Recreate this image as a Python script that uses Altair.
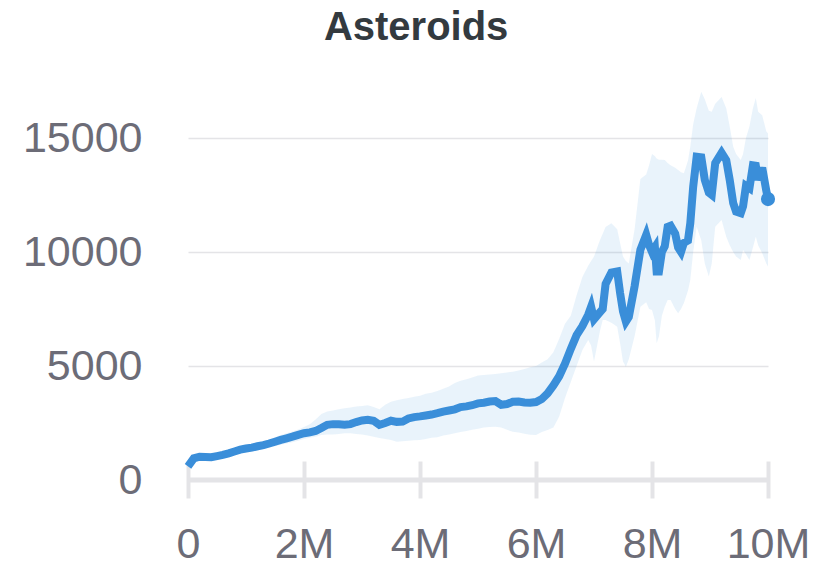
import altair as alt
import pandas as pd

# training steps (millions)
steps = [
    0.0, 0.1, 0.2, 0.3, 0.4, 0.5, 0.6, 0.7, 0.8, 0.9,
    1.0, 1.1, 1.2, 1.3, 1.4, 1.5, 1.6, 1.7, 1.8, 1.9,
    2.0, 2.1, 2.2, 2.3, 2.4, 2.5, 2.6, 2.7, 2.8, 2.9,
    3.0, 3.1, 3.2, 3.3, 3.4, 3.5, 3.6, 3.7, 3.8, 3.9,
    4.0, 4.1, 4.2, 4.3, 4.4, 4.5, 4.6, 4.7, 4.8, 4.9,
    5.0, 5.1, 5.2, 5.3, 5.4, 5.5, 5.6, 5.7, 5.8, 5.9,
    6.0,
    6.1, 6.2, 6.3, 6.4, 6.5, 6.6, 6.7, 6.8, 6.9, 6.95,
    7.0, 7.1, 7.15, 7.2, 7.3, 7.4, 7.45, 7.5, 7.55, 7.6,
    7.7, 7.8, 7.9, 7.95, 8.0, 8.05, 8.08, 8.12, 8.17, 8.22,
    8.27, 8.32, 8.4, 8.45, 8.5, 8.55, 8.62, 8.66, 8.71, 8.77,
    8.85, 8.91, 8.98, 9.03, 9.09, 9.2, 9.28, 9.34, 9.4, 9.45,
    9.53, 9.57, 9.62, 9.68, 9.74, 9.79, 9.83, 9.9, 9.97, 10.0,
]

mean_return = [
    600, 950, 1020, 1010, 1000, 1050, 1100, 1170, 1250, 1330,
    1380, 1420, 1480, 1530, 1600, 1680, 1760, 1830, 1900, 1980,
    2050, 2090, 2150, 2280, 2420, 2450, 2440, 2420, 2450, 2540,
    2610, 2640, 2600, 2420, 2500, 2600, 2550, 2560, 2700, 2760,
    2790, 2830, 2870, 2930, 3000, 3050, 3100, 3200, 3230, 3280,
    3360, 3390, 3440, 3460, 3300, 3330, 3430, 3440, 3400, 3390,
    3420,
    3550, 3800, 4150, 4550, 5100, 5750, 6350, 6750, 7250, 7600,
    7050, 7350, 7500, 8600, 9100, 9150, 8200, 7400, 6950, 7150,
    8500, 10100, 10750, 10300, 10000, 10200, 9140, 9140, 10000, 10250,
    11100, 11150, 10800, 10200, 10000, 10400, 10500, 11260, 12860, 14180,
    14150, 13160, 12600, 12500, 13900, 14350, 14030, 13160, 12150, 11770,
    11700, 12000, 12900, 12800, 13800, 13780, 13160, 13700, 12700, 12320,
]

lower = [
    540, 880, 950, 940, 920, 960, 1000, 1060, 1130, 1200,
    1240, 1270, 1320, 1360, 1420, 1480, 1550, 1600, 1660, 1720,
    1800, 1850, 1900, 1970, 2000, 2000, 2020, 2050, 2050, 2020,
    2000, 1950, 1900, 1840, 1800, 1750, 1680, 1700, 1720, 1740,
    1750, 1800, 1850, 1880, 1950, 2000, 2050, 2100, 2150, 2200,
    2250, 2300, 2330, 2340, 2300, 2200, 2120, 2080, 2030, 1990,
    1970,
    2100, 2190, 2300, 2780, 3600, 4300, 5000, 5700, 6140, 5900,
    5200, 6500, 7020, 7020, 6900, 6720, 6000, 5200, 4970, 5300,
    6300, 7600, 7800, 7500, 7460, 7000, 6000, 6300, 7200, 7600,
    7900, 7900, 7500, 7310, 7500, 7760, 8300, 8770, 10000, 11110,
    10500, 9500, 8920, 9500, 11110, 11400, 10670, 10300, 10000, 9800,
    9650, 10090, 9900, 9650, 10200, 10670, 10300, 9950, 9500, 9360,
]

upper = [
    660, 1020, 1090, 1080, 1080, 1140, 1200, 1280, 1370, 1460,
    1520, 1570, 1640, 1700, 1790, 1880, 1970, 2050, 2130, 2220,
    2320, 2450, 2650, 2900, 3000, 3050, 3100, 3150, 3180, 3220,
    3250, 3280, 3200, 3100, 3300, 3430, 3500, 3550, 3600, 3650,
    3700, 3780, 3830, 3900, 4000, 4100, 4250, 4350, 4420, 4500,
    4580, 4600, 4630, 4650, 4680, 4720, 4750, 4800, 4870, 4940,
    5000,
    5150, 5300, 5600, 6200, 6850, 7200, 8100, 8900, 9400, 9600,
    9800, 10500, 10800, 11100, 11260, 11000, 10400, 9800, 9600, 9500,
    11000, 13200, 13400, 13800, 14300, 14200, 14100, 14050, 14050, 14030,
    13900, 13800, 13700, 13600, 13500, 13450, 14000, 14620, 15600, 16300,
    17030, 16700, 16200, 16150, 16500, 16800, 16300, 15500, 14620, 14300,
    14030, 14300, 15000, 15500, 16300, 16750, 16150, 16000, 15300, 15200,
]

x_ticks = [0, 2e6, 4e6, 6e6, 8e6, 1e7]
y_ticks = [0, 5000, 10000, 15000]

df = pd.DataFrame({
    "step": [s * 1e6 for s in steps],
    "mean": mean_return,
    "lo": lower,
    "hi": upper,
})
last = df.tail(1)
axis_line = pd.DataFrame({"x": [0.0], "x2": [1e7], "y": [0]})

BLUE = "#3a8ed9"
GRAY_LINE = "#e4e4e7"
LABEL = "#6c6c77"
FONT = "Liberation Sans"

xscale = alt.Scale(domain=[0, 1e7], nice=False, zero=False)
yscale = alt.Scale(domain=[0, 17193], nice=False)

xaxis = alt.Axis(
    values=x_ticks, title=None, grid=False, domain=False,
    ticks=True, tickSize=37, tickWidth=4, tickColor=GRAY_LINE, offset=-19,
    labelFontSize=43, labelColor=LABEL, labelFont=FONT, labelPadding=25,
    labelExpr="datum.value == 0 ? '0' : (datum.value / 1000000) + 'M'",
    labelFlush=False, labelOverlap=False,
)
yaxis = alt.Axis(
    values=y_ticks, title=None, grid=True, gridColor=GRAY_LINE, gridWidth=1.5,
    domain=False, ticks=False, labelFontSize=43, labelColor=LABEL,
    labelFont=FONT, labelPadding=46, format="d",
)

base = alt.Chart(df)

band = base.mark_area(color=BLUE, opacity=0.11).encode(
    x=alt.X("step:Q", scale=xscale, axis=xaxis),
    y=alt.Y("lo:Q", scale=yscale, axis=yaxis),
    y2="hi:Q",
)

domain_rule = alt.Chart(axis_line).mark_rule(color=GRAY_LINE, strokeWidth=5).encode(
    x=alt.X("x:Q", scale=xscale),
    x2="x2:Q",
    y=alt.Y("y:Q", scale=yscale),
)

line = base.mark_line(color=BLUE, strokeWidth=8).encode(
    x=alt.X("step:Q", scale=xscale),
    y=alt.Y("mean:Q", scale=yscale),
)

dot = alt.Chart(last).mark_circle(color=BLUE, size=200, opacity=1).encode(
    x=alt.X("step:Q", scale=xscale),
    y=alt.Y("mean:Q", scale=yscale),
)

chart = alt.layer(band, domain_rule, line, dot).properties(
    width=580,
    height=392,
    padding={"left": 14, "top": 0, "right": 5, "bottom": 0},
    title=alt.TitleParams(
        "Asteroids", fontSize=40, font=FONT, fontWeight="bold",
        color="#333a3f", offset=40, anchor="middle", frame="bounds",
    ),
).configure_view(stroke=None)

chart.save("out.html", embed_options={"renderer": "svg", "actions": False})
